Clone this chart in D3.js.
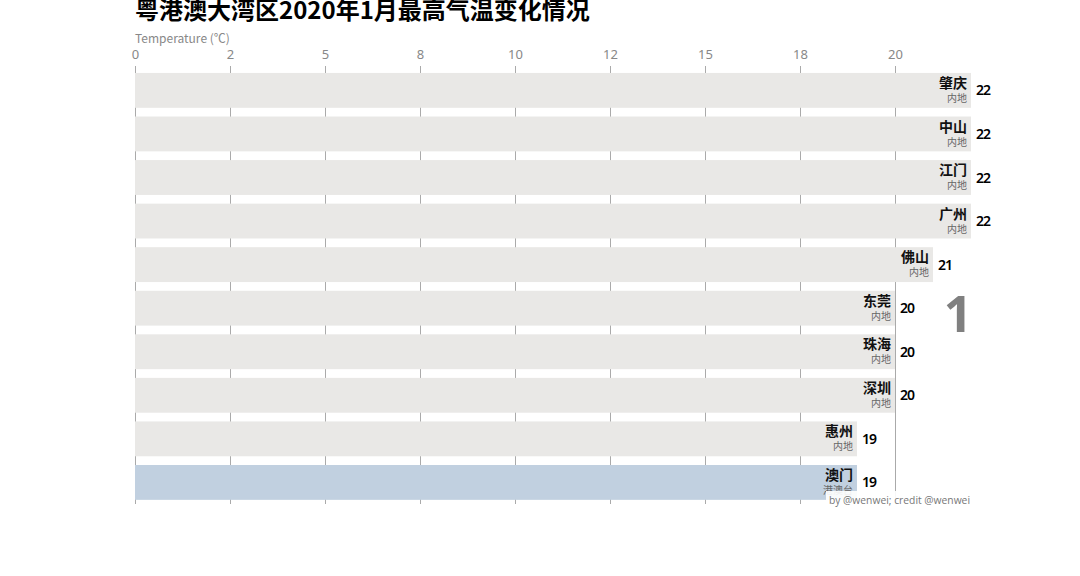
<!DOCTYPE html>
<html>
<head>
<meta charset="utf-8">
<script src="https://cdn.jsdelivr.net/npm/d3@7"></script>
<style>
  body { margin: 0; background: #fff; }
  svg { font-family: "Noto Sans CJK SC", "Noto Sans", sans-serif; }
</style>
</head>
<body>
<div id="chart"></div>
<script>
// data, one frame (day 1)
var cities = ["肇庆", "中山", "江门", "广州", "佛山", "东莞", "珠海", "深圳", "惠州", "澳门"];
var groups = ["内地", "内地", "内地", "内地", "内地", "内地", "内地", "内地", "内地", "港澳台"];
var temps = [22, 22, 22, 22, 21, 20, 20, 20, 19, 19];
var tickValues = [0, 2.5, 5, 7.5, 10, 12.5, 15, 17.5, 20];
var tickLabels = ["0", "2", "5", "8", "10", "12", "15", "18", "20"];
var groupColors = { "内地": "#e9e8e6", "港澳台": "#c1d0e0" };

var W = 1080, H = 576;
var svg = d3.select("#chart").append("svg")
  .attr("width", W).attr("height", H);

var x = d3.scaleLinear().domain([0, 22]).range([135, 971]);
var y = d3.scaleBand().domain(d3.range(cities.length))
  .range([68.6, 504.2]).paddingInner(0.2).paddingOuter(0.1);

var items = cities.map(function(c, i){
  return { name: c, group: groups[i], value: temps[i], idx: i };
});

// title
svg.append("text")
  .attr("x", 135).attr("y", 19)
  .attr("font-size", 24).attr("font-weight", 700).attr("fill", "#000")
  .text("粤港澳大湾区2020年1月最高气温变化情况");

svg.append("text")
  .attr("x", 135).attr("y", 43)
  .attr("font-size", 12).attr("fill", "#888")
  .text("Temperature (℃)");

// axis with grid lines
var axis = d3.axisTop(x)
  .tickValues(tickValues)
  .tickFormat(function(d, i){ return tickLabels[i]; })
  .tickSize(-(504 - 66))
  .tickPadding(6);

var ax = svg.append("g")
  .attr("transform", "translate(0,66)")
  .call(axis);
ax.select(".domain").remove();
ax.selectAll(".tick line").attr("stroke", "#aaa").attr("stroke-width", 1);
ax.selectAll(".tick text")
  .attr("fill", "#888").attr("font-size", 13)
  .attr("font-family", "'Noto Sans', sans-serif")
  .attr("y", -7);

// bars
svg.append("g").selectAll("rect")
  .data(items)
  .enter().append("rect")
  .attr("x", x(0))
  .attr("y", function(d){ return y(d.idx); })
  .attr("width", function(d){ return x(d.value) - x(0); })
  .attr("height", y.bandwidth())
  .attr("fill", function(d){ return groupColors[d.group]; });

var labels = svg.append("g").selectAll("g")
  .data(items)
  .enter().append("g");

labels.append("text")
  .attr("x", function(d){ return x(d.value) - 4; })
  .attr("y", function(d){ return y(d.idx) + 15; })
  .attr("text-anchor", "end")
  .attr("font-size", 14).attr("font-weight", 700).attr("fill", "#111")
  .text(function(d){ return d.name; });

labels.append("text")
  .attr("x", function(d){ return x(d.value) - 4; })
  .attr("y", function(d){ return y(d.idx) + 29; })
  .attr("text-anchor", "end")
  .attr("font-size", 10).attr("fill", "#666")
  .text(function(d){ return d.group; });

labels.append("text")
  .attr("x", function(d){ return x(d.value) + 5; })
  .attr("y", function(d){ return y(d.idx) + y.bandwidth() / 2 + 5; })
  .attr("font-size", 14).attr("font-weight", 600).attr("fill", "#000")
  .attr("letter-spacing", -1)
  .attr("font-family", "'Noto Sans', sans-serif")
  .text(function(d){ return d.value; });

// frame counter
svg.append("text")
  .attr("x", 958).attr("y", 332)
  .attr("text-anchor", "middle")
  .attr("font-size", 50).attr("font-weight", 700).attr("fill", "#808080")
  .attr("font-family", "'Noto Sans', sans-serif")
  .text("1");

// credit box (sits over the last sub label, as in the original)
var credit = svg.append("g");
credit.append("rect")
  .attr("x", 826).attr("y", 491).attr("width", 146).attr("height", 18)
  .attr("fill", "#fff").attr("opacity", 0.9);
credit.append("text")
  .attr("x", 970).attr("y", 504)
  .attr("text-anchor", "end")
  .attr("font-size", 10.3).attr("fill", "#777")
  .attr("font-family", "'Open Sans', 'Noto Sans', sans-serif")
  .text("by @wenwei; credit @wenwei");
</script>
</body>
</html>
